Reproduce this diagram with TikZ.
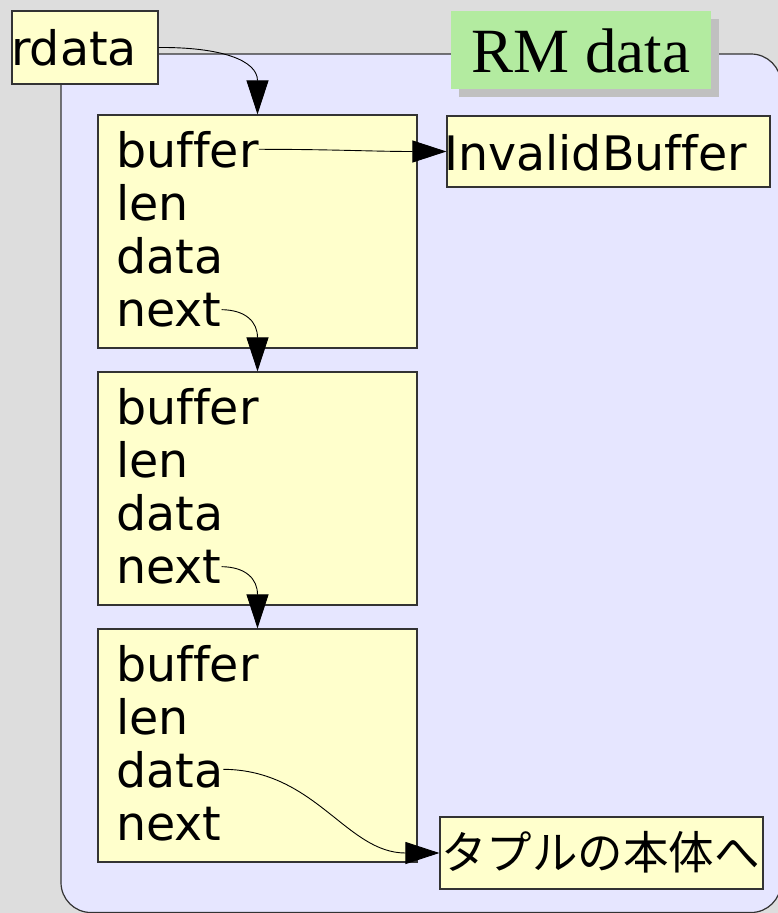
\documentclass[tikz,border=0pt]{standalone}
\usepackage{fontspec}
\setmainfont[Ligatures={NoCommon}]{DejaVu Sans}
\newfontfamily\titlefont{Liberation Serif}
\newfontfamily\jpfont{Noto Sans CJK JP}
\usetikzlibrary{arrows.meta}

\definecolor{pagegray}{HTML}{DDDDDD}
\definecolor{regionfill}{HTML}{E6E6FF}
\definecolor{notefill}{HTML}{FFFFCC}
\definecolor{titlefill}{HTML}{B3EBA0}
\definecolor{shadowgray}{HTML}{C0C0C0}
\definecolor{edgegray}{HTML}{333333}

\tikzset{
  cell/.style={draw=edgegray, line width=1.2pt, fill=notefill, inner sep=0pt},
  structbox/.style={cell, minimum width=319pt, minimum height=233pt},
  field/.style={inner sep=0pt, anchor=base west, font=\fontsize{47.5}{47.5}\selectfont},
  link/.style={draw=black, line width=0.9pt, -{Triangle[length=34pt,width=22pt]}}
}

\begin{document}
\begin{tikzpicture}[x=1pt,y=-1pt]
  % page and clipping frame
  \clip (0,0) rectangle (778,913);
  \fill[pagegray] (0,0) rectangle (778,913);

  % memory region holding the RM data
  \draw[edgegray, line width=1.2pt, fill=regionfill, rounded corners=30pt]
    (61,54) rectangle (781,912.5);

  % region title with its drop shadow
  \fill[shadowgray] (459,19) rectangle (719,97);
  \node[fill=titlefill, minimum width=260pt, minimum height=78pt, inner sep=0pt]
    (title) at (581,50) {};
  \node[inner sep=0pt, anchor=base, font=\titlefont\fontsize{63}{63}\selectfont]
    (titletext) at (581,72) {RM data};

  % the rdata pointer
  \node[cell, minimum width=146pt, minimum height=73pt] (rdatabox) at (85,47.5) {};
  \node[field] (rdata) at (11,65) {rdata};

  % three chained entries
  \node[structbox] (e1) at (257.5,231.5) {};
  \node[structbox] (e2) at (257.5,488.5) {};
  \node[structbox] (e3) at (257.5,745.5) {};

  \foreach \i/\top in {1/115, 2/372, 3/629} {
    \node[field] (buf\i)  at (116,\top+52)  {buffer};
    \node[field] (len\i)  at (116,\top+105) {len};
    \node[field] (dat\i)  at (116,\top+158) {data};
    \node[field] (nxt\i)  at (116,\top+211) {next};
  }

  % targets outside the chain
  \node[cell, minimum width=323pt, minimum height=71pt] (invbox) at (608.5,151.5) {};
  \node[field] (inv) at (444,170) {InvalidBuffer};

  \node[cell, minimum width=323pt, minimum height=72pt] (tuplebox) at (601.5,853) {};
  \node[field, font=\jpfont\fontsize{45.5}{45.5}\selectfont] (tuple) at (441,869) {タプルの本体へ};

  % pointers
  \draw[link] (rdatabox.east) .. controls (220,47) and (257.5,60) .. (e1.north);
  \draw[link] (buf1.east) to[out=0,in=180] (invbox.west);
  \draw[link] (nxt1.east) .. controls (246,310) and (257.5,322) .. (e2.north);
  \draw[link] (nxt2.east) .. controls (246,567) and (257.5,579) .. (e3.north);
  \draw[link] (dat3.east) .. controls (316,770) and (346,853) .. (tuplebox.west);
\end{tikzpicture}
\end{document}
